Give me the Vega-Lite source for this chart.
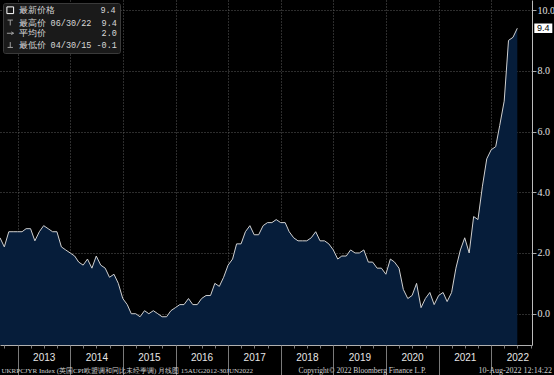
{
  "$schema": "https://vega.github.io/schema/vega-lite/v6.json",
  "width": 532,
  "height": 345,
  "autosize": {"type": "none"},
  "padding": {"left": 0, "top": 0, "right": 22, "bottom": 30},
  "background": "#000000",
  "config": {"view": {"stroke": null}, "font": "Liberation Sans"},
  "data": {
    "format": {"parse": {"date": "date:'%Y-%m-%d'"}},
    "values": [
      {"date": "2012-08-31", "value": 2.5}, {"date": "2012-09-30", "value": 2.2}, {"date": "2012-10-31", "value": 2.7}, {"date": "2012-11-30", "value": 2.7}, {"date": "2012-12-31", "value": 2.7},
      {"date": "2013-01-31", "value": 2.7}, {"date": "2013-02-28", "value": 2.8}, {"date": "2013-03-31", "value": 2.8}, {"date": "2013-04-30", "value": 2.4}, {"date": "2013-05-31", "value": 2.7}, {"date": "2013-06-30", "value": 2.9},
      {"date": "2013-07-31", "value": 2.8}, {"date": "2013-08-31", "value": 2.7}, {"date": "2013-09-30", "value": 2.7}, {"date": "2013-10-31", "value": 2.2}, {"date": "2013-11-30", "value": 2.1}, {"date": "2013-12-31", "value": 2.0},
      {"date": "2014-01-31", "value": 1.9}, {"date": "2014-02-28", "value": 1.7}, {"date": "2014-03-31", "value": 1.6}, {"date": "2014-04-30", "value": 1.8}, {"date": "2014-05-31", "value": 1.5}, {"date": "2014-06-30", "value": 1.9},
      {"date": "2014-07-31", "value": 1.6}, {"date": "2014-08-31", "value": 1.5}, {"date": "2014-09-30", "value": 1.2}, {"date": "2014-10-31", "value": 1.3}, {"date": "2014-11-30", "value": 1.0}, {"date": "2014-12-31", "value": 0.5},
      {"date": "2015-01-31", "value": 0.3}, {"date": "2015-02-28", "value": 0.0}, {"date": "2015-03-31", "value": 0.0}, {"date": "2015-04-30", "value": -0.1}, {"date": "2015-05-31", "value": 0.1}, {"date": "2015-06-30", "value": 0.0},
      {"date": "2015-07-31", "value": 0.1}, {"date": "2015-08-31", "value": 0.0}, {"date": "2015-09-30", "value": -0.1}, {"date": "2015-10-31", "value": -0.1}, {"date": "2015-11-30", "value": 0.1}, {"date": "2015-12-31", "value": 0.2},
      {"date": "2016-01-31", "value": 0.3}, {"date": "2016-02-29", "value": 0.3}, {"date": "2016-03-31", "value": 0.5}, {"date": "2016-04-30", "value": 0.3}, {"date": "2016-05-31", "value": 0.3}, {"date": "2016-06-30", "value": 0.5},
      {"date": "2016-07-31", "value": 0.6}, {"date": "2016-08-31", "value": 0.6}, {"date": "2016-09-30", "value": 1.0}, {"date": "2016-10-31", "value": 0.9}, {"date": "2016-11-30", "value": 1.2}, {"date": "2016-12-31", "value": 1.6},
      {"date": "2017-01-31", "value": 1.8}, {"date": "2017-02-28", "value": 2.3}, {"date": "2017-03-31", "value": 2.3}, {"date": "2017-04-30", "value": 2.7}, {"date": "2017-05-31", "value": 2.9}, {"date": "2017-06-30", "value": 2.6},
      {"date": "2017-07-31", "value": 2.6}, {"date": "2017-08-31", "value": 2.9}, {"date": "2017-09-30", "value": 3.0}, {"date": "2017-10-31", "value": 3.0}, {"date": "2017-11-30", "value": 3.1}, {"date": "2017-12-31", "value": 3.0},
      {"date": "2018-01-31", "value": 3.0}, {"date": "2018-02-28", "value": 2.7}, {"date": "2018-03-31", "value": 2.5}, {"date": "2018-04-30", "value": 2.4}, {"date": "2018-05-31", "value": 2.4}, {"date": "2018-06-30", "value": 2.4},
      {"date": "2018-07-31", "value": 2.5}, {"date": "2018-08-31", "value": 2.7}, {"date": "2018-09-30", "value": 2.4}, {"date": "2018-10-31", "value": 2.4}, {"date": "2018-11-30", "value": 2.3}, {"date": "2018-12-31", "value": 2.1},
      {"date": "2019-01-31", "value": 1.8}, {"date": "2019-02-28", "value": 1.9}, {"date": "2019-03-31", "value": 1.9}, {"date": "2019-04-30", "value": 2.1}, {"date": "2019-05-31", "value": 2.0}, {"date": "2019-06-30", "value": 2.0},
      {"date": "2019-07-31", "value": 2.1}, {"date": "2019-08-31", "value": 1.7}, {"date": "2019-09-30", "value": 1.7}, {"date": "2019-10-31", "value": 1.5}, {"date": "2019-11-30", "value": 1.5}, {"date": "2019-12-31", "value": 1.3},
      {"date": "2020-01-31", "value": 1.8}, {"date": "2020-02-29", "value": 1.7}, {"date": "2020-03-31", "value": 1.5}, {"date": "2020-04-30", "value": 0.8}, {"date": "2020-05-31", "value": 0.5}, {"date": "2020-06-30", "value": 0.6},
      {"date": "2020-07-31", "value": 1.0}, {"date": "2020-08-31", "value": 0.2}, {"date": "2020-09-30", "value": 0.5}, {"date": "2020-10-31", "value": 0.7}, {"date": "2020-11-30", "value": 0.3}, {"date": "2020-12-31", "value": 0.6},
      {"date": "2021-01-31", "value": 0.7}, {"date": "2021-02-28", "value": 0.4}, {"date": "2021-03-31", "value": 0.7}, {"date": "2021-04-30", "value": 1.5}, {"date": "2021-05-31", "value": 2.1}, {"date": "2021-06-30", "value": 2.5},
      {"date": "2021-07-31", "value": 2.0}, {"date": "2021-08-31", "value": 3.2}, {"date": "2021-09-30", "value": 3.1}, {"date": "2021-10-31", "value": 4.2}, {"date": "2021-11-30", "value": 5.1}, {"date": "2021-12-31", "value": 5.4},
      {"date": "2022-01-31", "value": 5.5}, {"date": "2022-02-28", "value": 6.2}, {"date": "2022-03-31", "value": 7.0}, {"date": "2022-04-30", "value": 9.0}, {"date": "2022-05-31", "value": 9.1}, {"date": "2022-06-30", "value": 9.4}
    ]
  },
  "resolve": {"axis": {"x": "independent"}},
  "layer": [
    {
      "mark": {"type": "area", "color": "#061d3a", "opacity": 1, "line": {"color": "#d0d0d0", "strokeWidth": 1}},
      "encoding": {
        "x": {
          "field": "date", "type": "temporal",
          "scale": {"domain": [{"year": 2012, "month": 8, "date": 31}, {"year": 2022, "month": 10, "date": 10}]},
          "axis": {
            "orient": "bottom",
            "tickCount": {"interval": "year", "step": 1},
            "format": "%Y",
            "labelOffset": 26, "labelAlign": "center", "labelBaseline": "top", "labelPadding": -23,
            "labelFlush": false, "labelOverlap": false, "labelBound": false,
            "labelColor": "#e6e6e6", "labelFontSize": 10, "labelFont": "Liberation Sans",
            "tickSize": 30, "tickColor": "#7a7a7a", "domainColor": "#b0b0b0",
            "grid": true, "gridColor": "#5a5a5a", "gridDash": [1, 2],
            "title": "UKRPCJYR Index (英国CPI欧盟调和同比未经季调)  月线图 15AUG2012-30JUN2022",
            "titleX": 1, "titleY": 25, "titleAlign": "left", "titleAnchor": "start", "titleBaseline": "middle",
            "titleFont": "Liberation Serif", "titleFontSize": 7, "titleFontWeight": "normal", "titleColor": "#d0d0d0"
          }
        },
        "y": {
          "field": "value", "type": "quantitative",
          "scale": {"domain": [-1.03, 10.33], "zero": false, "nice": false},
          "axis": {
            "orient": "right",
            "values": [0, 1, 2, 3, 4, 5, 6, 7, 8, 9, 10],
            "labelExpr": "datum.value % 2 == 0 ? format(datum.value, '.1f') : ''",
            "labelColor": "#e0e0e0", "labelFontSize": 10, "labelPadding": 1, "labelFont": "Liberation Sans Narrow",
            "tickColor": "#aaaaaa",
            "tickSize": {"condition": {"test": "datum.value % 2 == 0", "value": 4}, "value": 3},
            "domainColor": "#bbbbbb",
            "grid": true, "gridColor": "#5a5a5a", "gridDash": [1, 2],
            "gridOpacity": {"condition": {"test": "datum.value % 2 == 0", "value": 1}, "value": 0},
            "title": "10-Aug-2022 12:14:22",
            "titleX": -54, "titleY": 370, "titleAngle": 0, "titleAlign": "left", "titleBaseline": "middle",
            "titleFont": "Liberation Serif", "titleFontSize": 8, "titleFontWeight": "normal", "titleColor": "#d0d0d0"
          }
        },
        "y2": {"datum": -1.03}
      }
    },
    {
      "transform": [{"filter": "year(datum.date) == 2022 && month(datum.date) == 5"}],
      "mark": {"type": "point", "shape": "M-1.9,-1H1.9V1H-1.9Z", "filled": true, "color": "#ffffff", "size": 90, "opacity": 1, "xOffset": 26},
      "encoding": {
        "x": {
          "field": "date", "type": "temporal",
          "axis": {
            "orient": "bottom",
            "tickCount": {"interval": "month", "step": 3},
            "labels": false, "grid": false, "domain": false,
            "tickSize": 3, "tickColor": "#7a7a7a",
            "title": "Copyright© 2022 Bloomberg Finance L.P.",
            "titleX": 298, "titleY": 25, "titleAlign": "left", "titleAnchor": "start", "titleBaseline": "middle",
            "titleFont": "Liberation Serif", "titleFontSize": 7.5, "titleFontWeight": "normal", "titleColor": "#d0d0d0"
          }
        },
        "y": {"field": "value", "type": "quantitative"}
      }
    },
    {
      "transform": [{"filter": "year(datum.date) == 2022 && month(datum.date) == 5"}],
      "mark": {"type": "text", "color": "#000000", "fontSize": 9, "font": "Liberation Sans", "align": "center", "baseline": "middle", "xOffset": 26},
      "encoding": {
        "x": {"field": "date", "type": "temporal", "axis": null},
        "y": {"field": "value", "type": "quantitative"},
        "text": {"field": "value", "type": "quantitative", "format": ".1f"}
      }
    },
    {
      "data": {"values": [
        {"stat": "最新价格\u00a0\u00a0\u00a0\u00a0\u00a0\u00a0\u00a0\u00a0\u00a09.4"},
        {"stat": "最高价\u00a006/30/22\u00a0\u00a09.4"},
        {"stat": "平均价\u00a0\u00a0\u00a0\u00a0\u00a0\u00a0\u00a0\u00a0\u00a0\u00a0\u00a02.0"},
        {"stat": "最低价\u00a004/30/15\u00a0-0.1"}
      ]},
      "mark": {"type": "point", "filled": false, "opacity": 0, "strokeWidth": 1},
      "encoding": {
        "color": {
          "field": "stat", "type": "nominal",
          "scale": {"domain": ["最新价格\u00a0\u00a0\u00a0\u00a0\u00a0\u00a0\u00a0\u00a0\u00a09.4", "最高价\u00a006/30/22\u00a0\u00a09.4", "平均价\u00a0\u00a0\u00a0\u00a0\u00a0\u00a0\u00a0\u00a0\u00a0\u00a0\u00a02.0", "最低价\u00a004/30/15\u00a0-0.1"], "range": ["#ffffff", "#a0a0a0", "#a0a0a0", "#a0a0a0"]},
          "legend": {
            "title": null, "orient": "top-left", "offset": 3,
            "fillColor": "#1a1a1a", "strokeColor": "#3a3a3a", "padding": 3, "cornerRadius": 2,
            "labelColor": "#d8d8d8", "labelFont": "Liberation Mono", "labelFontSize": 8.5, "labelLimit": 300, "labelOffset": 4,
            "symbolSize": 45, "symbolStrokeWidth": 1, "symbolFillColor": "#ffffff", "symbolOpacity": 1,
            "rowPadding": 1.5
          }
        },
        "shape": {
          "field": "stat", "type": "nominal",
          "scale": {"domain": ["最新价格\u00a0\u00a0\u00a0\u00a0\u00a0\u00a0\u00a0\u00a0\u00a09.4", "最高价\u00a006/30/22\u00a0\u00a09.4", "平均价\u00a0\u00a0\u00a0\u00a0\u00a0\u00a0\u00a0\u00a0\u00a0\u00a0\u00a02.0", "最低价\u00a004/30/15\u00a0-0.1"], "range": ["square", "M-0.8,-0.8H0.8M0,-0.8V0.8", "M-1,0H1M0.3,-0.4L1,0L0.3,0.4", "M0,-0.8V0.8M-0.8,0.8H0.8"]}
        }
      }
    }
  ]
}
